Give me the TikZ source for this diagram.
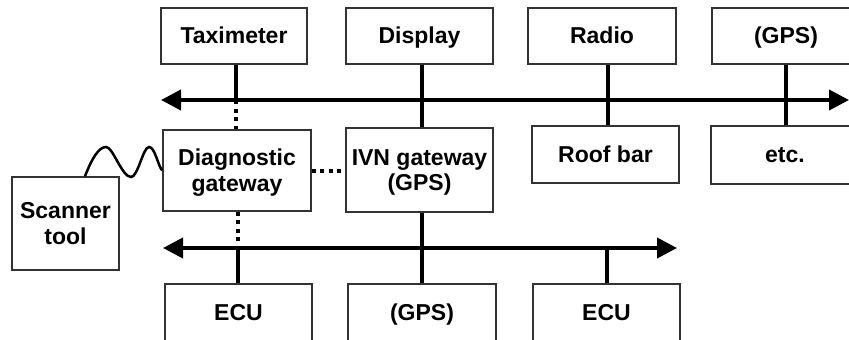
\documentclass[tikz,border=0pt]{standalone}
\usepackage{fontspec}
\setmainfont{Liberation Sans}
\usetikzlibrary{arrows.meta}
\newcommand{\twoline}[2]{\rule{0pt}{18pt}#1\\\smash{#2}\rule[-2pt]{0pt}{2pt}}
\tikzset{
  box/.style={draw=black!80, line width=1.5pt, fill=white, inner sep=0pt,
    align=center, font=\fontsize{23}{25.5}\selectfont\bfseries},
  oneline/.style={box, text height=17pt, text depth=2pt},
  bus/.style={line width=4pt, {Triangle[length=20pt,width=20pt]}-{Triangle[length=20pt,width=20pt]}},
  stem/.style={line width=4pt},
  dotline/.style={line width=4pt, dash pattern=on 4pt off 4.5pt},
  wave/.style={line width=2.5pt}
}
\begin{document}
\begin{tikzpicture}[x=1pt,y=-1pt]
\useasboundingbox (0,0) rectangle (849,340);
\clip (0,0) rectangle (849,340);
% top row
\node[oneline, minimum width=146pt, minimum height=56pt] (tax) at (234,36) {Taximeter};
\node[oneline, minimum width=147pt, minimum height=56pt] (disp) at (419.5,36) {Display};
\node[oneline, minimum width=148pt, minimum height=56pt] (radio) at (602,36) {Radio};
\node[oneline, minimum width=148pt, minimum height=56pt] (gpsa) at (786,36) {(GPS)};
% middle row
\node[box, minimum width=148pt, minimum height=81pt] (diag) at (237,170.5) {\twoline{Diagnostic}{gateway}};
\node[box, minimum width=147pt, minimum height=84pt] (ivn) at (419.5,170) {\twoline{IVN gateway}{(GPS)}};
\node[oneline, minimum width=147pt, minimum height=57pt] (roof) at (605.5,154.5) {Roof bar};
\node[oneline, minimum width=148pt, minimum height=58pt] (etc) at (785,155) {etc.};
\node[box, minimum width=107pt, minimum height=93pt] (scan) at (65.5,223.5) {\twoline{Scanner}{tool}};
% bottom row
\node[oneline, minimum width=147pt, minimum height=58pt] (ecua) at (238.5,313) {ECU};
\node[oneline, minimum width=148pt, minimum height=58pt] (gpsb) at (422,313) {(GPS)};
\node[oneline, minimum width=147pt, minimum height=58pt] (ecub) at (606.5,313) {ECU};
% buses
\coordinate (b1l) at (161,100);
\coordinate (b1r) at (849,100);
\coordinate (b2l) at (163,248);
\coordinate (b2r) at (677,248);
\draw[bus] (b1l) -- (b1r);
\draw[bus] (b2l) -- (b2r);
% top stems
\draw[stem] ([xshift=2pt]tax.south) -- ([xshift=2pt]tax.south |- b1l);
\draw[dotline] ([xshift=2pt]tax.south |- b1l) -- ([xshift=-1pt]diag.north);
\draw[stem] ([xshift=2.5pt]disp.south) -- ([xshift=2.5pt]ivn.north);
\draw[stem] ([xshift=6pt]radio.south) -- ([xshift=2.5pt]roof.north);
\draw[stem] (gpsa.south) -- ([xshift=1pt]etc.north);
% middle connections
\draw[dotline] (diag.east) -- (ivn.west |- diag.east);
\draw[dotline] ([xshift=1pt]diag.south) -- ([xshift=1pt]diag.south |- b2l);
\draw[stem] ([xshift=1pt]diag.south |- b2l) -- ([xshift=1pt]diag.south |- ecua.north);
\draw[stem] ([xshift=2.5pt]ivn.south) -- (gpsb.north);
\draw[stem] (ecub.north |- b2l) -- (ecub.north);
% wavy link
\draw[wave] ([xshift=19.5pt]scan.north) .. controls (92,158) and (99,147) .. (106,147)
  .. controls (113,147) and (122,177) .. (131,177)
  .. controls (138,177) and (143,147) .. (149,147)
  .. controls (155,147) and (158,166) .. (diag.west);
\end{tikzpicture}
\end{document}
